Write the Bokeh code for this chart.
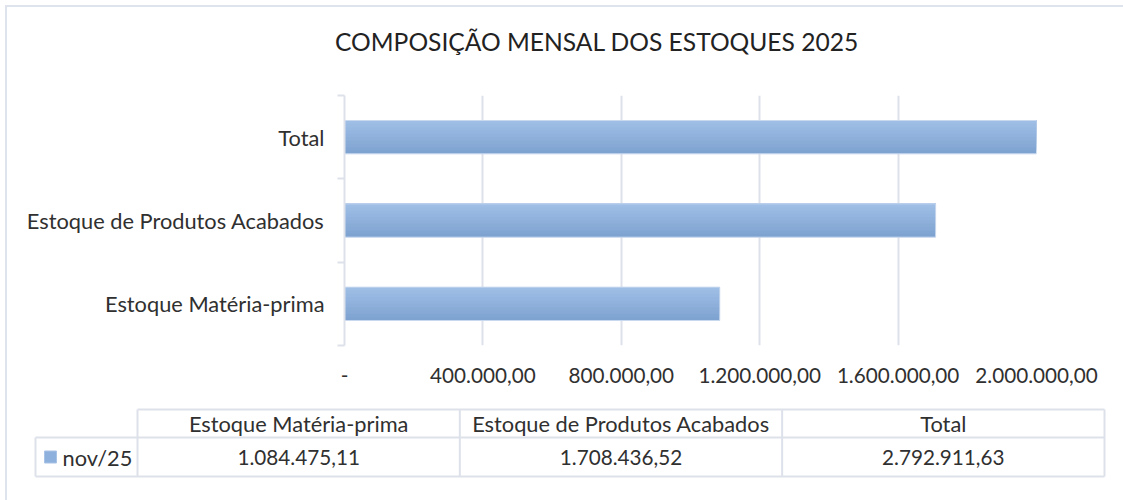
from bokeh.plotting import figure
from bokeh.models import Range1d, FixedTicker
from bokeh.layouts import column
from bokeh.core.properties import value
from bokeh.embed import file_html
from bokeh.resources import INLINE

# ---------------- data ----------------
title_text = "COMPOSIÇÃO MENSAL DOS ESTOQUES 2025"
series_name = "nov/25"
categories = ["Estoque Matéria-prima", "Estoque de Produtos Acabados", "Total"]
values = [1084475.11, 1708436.52, 2792911.63]
tick_values = [0, 400000, 800000, 1200000, 1600000, 2000000]
tick_labels = ["-", "400.000,00", "800.000,00", "1.200.000,00", "1.600.000,00", "2.000.000,00"]
x_max = 2000000


def fmt_br(v):
    s = f"{v:,.2f}"
    return s.replace(",", "X").replace(".", ",").replace("X", ".")


# ---------------- style / layout ----------------
FONT = "Lato"
TXT = "#303030"
GRID = "#dde1ea"
BORDER = "#dfe3ec"
LBL_SIZE = "21.8px"
NUM_SIZE = "20.7px"
W = 1116
H0 = 63
H1 = 330
H2 = 100
n = len(categories)

# ---------------- title strip ----------------
p0 = figure(width=W, height=H0, x_range=Range1d(0, W), y_range=Range1d(H0, 0),
            output_backend="svg", toolbar_location=None, min_border=0,
            x_axis_type=None, y_axis_type=None, outline_line_color=None,
            background_fill_color="white", border_fill_color="white")
p0.frame_align = False
p0.grid.visible = False
p0.text(x=[589.5], y=[34], text=[title_text], text_font=value(FONT),
        text_font_size="24.6px", text_color="#222222",
        text_align="center", text_baseline="middle")

# ---------------- bar chart ----------------
p1 = figure(width=W, height=H1, x_range=Range1d(0, x_max), y_range=Range1d(0, n),
            output_backend="svg", toolbar_location=None,
            min_border_left=337, min_border_right=87, min_border_top=25,
            min_border_bottom=55,
            outline_line_color=None, background_fill_color="white", border_fill_color="white")
p1.frame_align = False

# x axis
xa = p1.xaxis[0]
xa.ticker = FixedTicker(ticks=tick_values)
xa.major_label_overrides = {t: l for t, l in zip(tick_values, tick_labels)}
xa.axis_line_color = None
xa.major_tick_line_color = None
xa.minor_tick_line_color = None
xa.major_tick_out = 0
xa.major_label_standoff = 22
xa.major_label_text_font = FONT
xa.major_label_text_font_size = NUM_SIZE
xa.major_label_text_color = TXT

# y axis (categories at band centres, tick marks at band edges)
centers = [i + 0.5 for i in range(n)]
ya = p1.yaxis[0]
ya.ticker = FixedTicker(ticks=centers, minor_ticks=list(range(n + 1)))
ya.major_label_overrides = {c: cat for c, cat in zip(centers, categories)}
ya.axis_line_color = GRID
ya.axis_line_width = 2
ya.major_tick_line_color = None
ya.major_tick_out = 0
ya.major_tick_in = 0
ya.minor_tick_line_color = GRID
ya.minor_tick_line_width = 2
ya.minor_tick_out = 7
ya.minor_tick_in = 0
ya.major_label_standoff = 13
ya.major_label_text_font = FONT
ya.major_label_text_font_size = LBL_SIZE
ya.major_label_text_color = TXT

p1.xgrid.grid_line_color = GRID
p1.xgrid.grid_line_width = 2
p1.ygrid.grid_line_color = None

# bars with a vertical gradient (lighter on top)
bar_h = 0.4
c_bottom = (0x7d, 0xa1, 0xcf)
c_top = (0xa0, 0xc0, 0xe7)
N = 10
for k in range(N):
    f = 1 - k / N
    t = (k + 0.5) / N
    col = "#%02x%02x%02x" % tuple(int(round(a + (b - a) * t)) for a, b in zip(c_bottom, c_top))
    ys = [y + bar_h / 2 - f * bar_h / 2 for y in centers]
    p1.hbar(y=ys, left=0, right=values, height=f * bar_h, fill_color=col, line_color=None)
p1.hbar(y=centers, left=0, right=values, height=bar_h, fill_color=None,
        line_color="#c8d8ee", line_width=1)

# ---------------- data table ----------------
p2 = figure(width=W, height=H2, x_range=Range1d(0, W), y_range=Range1d(H2, 0),
            output_backend="svg", toolbar_location=None, min_border=0,
            x_axis_type=None, y_axis_type=None, outline_line_color=None,
            background_fill_color="white", border_fill_color="white")
p2.frame_align = False
p2.grid.visible = False

TBL_LEFT = 28
COL0 = 130
COL_W = 322.33
ROW_TOP, ROW_MID, ROW_BOT = 9, 37, 76
col_edges = [COL0 + j * COL_W for j in range(n + 1)]
col_centers = [COL0 + (j + 0.5) * COL_W for j in range(n)]

x0s = [col_edges[0], TBL_LEFT, TBL_LEFT, TBL_LEFT] + col_edges
x1s = [col_edges[-1], col_edges[-1], col_edges[-1], TBL_LEFT] + col_edges
y0s = [ROW_TOP, ROW_MID, ROW_BOT, ROW_MID] + [ROW_TOP] * (n + 1)
y1s = [ROW_TOP, ROW_MID, ROW_BOT, ROW_BOT] + [ROW_BOT] * (n + 1)
p2.segment(x0=x0s, y0=y0s, x1=x1s, y1=y1s, line_color=GRID, line_width=2)

p2.text(x=col_centers, y=[(ROW_TOP + ROW_MID) / 2] * n, text=categories,
        text_font=value(FONT), text_font_size=LBL_SIZE, text_color=TXT,
        text_align="center", text_baseline="middle")
p2.text(x=col_centers, y=[(ROW_MID + ROW_BOT) / 2] * n, text=[fmt_br(v) for v in values],
        text_font=value(FONT), text_font_size=NUM_SIZE, text_color=TXT,
        text_align="center", text_baseline="middle")
p2.scatter(x=[TBL_LEFT + 15], y=[(ROW_MID + ROW_BOT) / 2], marker="square", size=12,
           fill_color="#8eb0dc", line_color="#a9c3e6")
p2.text(x=[TBL_LEFT + 27], y=[(ROW_MID + ROW_BOT) / 2], text=[series_name],
        text_font=value(FONT), text_font_size=LBL_SIZE, text_color=TXT,
        text_align="left", text_baseline="middle")

layout = column(p0, p1, p2, styles={"border-top": "2px solid " + BORDER,
                                    "border-left": "2px solid " + BORDER,
                                    "margin-top": "5px", "margin-left": "5px"})

with open("out.html", "w") as fh:
    fh.write(file_html(layout, INLINE))
